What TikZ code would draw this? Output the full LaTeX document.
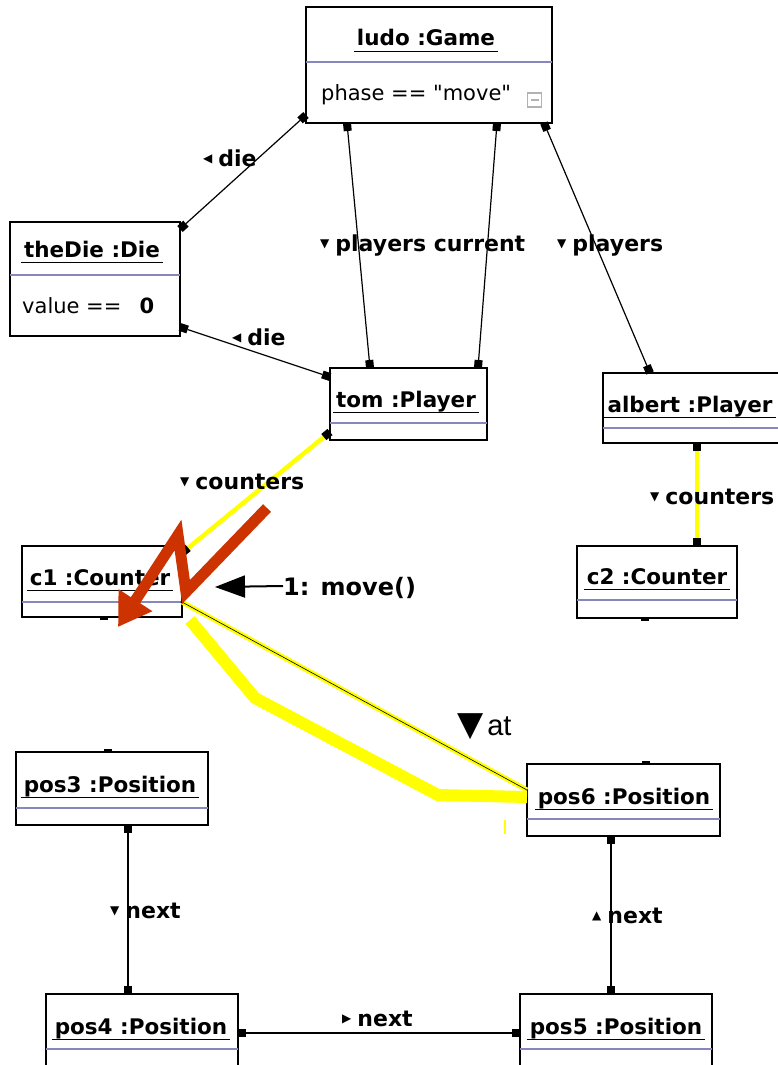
\documentclass[tikz,border=0pt]{standalone}
\usepackage{fontspec}
\setmainfont{DejaVu Sans}
\newfontfamily\symf{DejaVu Sans}
\newfontfamily\attrf{DejaVu Sans}[Ligatures=TeXOff]
\newfontfamily\arialf{Liberation Sans}
\usetikzlibrary{arrows.meta,calc}
\definecolor{divc}{RGB}{135,135,190}
\definecolor{yel}{RGB}{255,255,0}
\definecolor{redc}{RGB}{204,51,0}
\newcommand{\tD}{{\symf\fontsize{12}{12}\selectfont\raisebox{4pt}{▼}}\hspace{6pt}}
\newcommand{\tU}{{\symf\fontsize{12}{12}\selectfont\raisebox{4pt}{▲}}\hspace{6pt}}
\newcommand{\tL}{{\symf\fontsize{12}{12}\selectfont\raisebox{4pt}{◀}}\hspace{6pt}}
\newcommand{\tR}{{\symf\fontsize{12}{12}\selectfont\raisebox{4pt}{▶}}\hspace{6pt}}
\begin{document}
\begin{tikzpicture}[x=1pt,y=-1pt,
  obj/.style={draw=black, line width=1.6pt, fill=white, inner sep=0pt, outer sep=0pt},
  titlef/.style={font=\bfseries\fontsize{21.5}{21.5}\selectfont, inner sep=0pt, inner xsep=3pt, anchor=base},
  attr/.style={font=\attrf\fontsize{21}{21}\selectfont, inner sep=0pt, anchor=base west},
  lbl/.style={font=\bfseries\fontsize{22}{22}\selectfont, inner sep=0pt, anchor=base west},
  ul/.style={line width=1.7pt},
  divl/.style={draw=divc, line width=1.6pt},
  assoc/.style={line width=1.2pt, {Square[length=8pt,width=8pt,line width=0pt,black]}-{Square[length=8pt,width=8pt,line width=0pt,black]}},
  yassoc/.style={draw=yel, line width=4.5pt, {Square[length=8pt,width=8pt,line width=0pt,black]}-{Square[length=8pt,width=8pt,line width=0pt,black]}},
  stub/.style={line width=3pt}
]
\fill[white] (0,0) rectangle (778,1065);
\useasboundingbox (0,0) rectangle (778,1065);

% ---------- boxes ----------
\node[obj, minimum width=246pt, minimum height=116pt] (ludo) at (429,65) {};
\node[obj, minimum width=170pt, minimum height=114pt] (theDie) at (95,279) {};
\node[obj, minimum width=157pt, minimum height=72pt] (tom) at (408.5,404) {};
\node[obj, minimum width=179pt, minimum height=70pt] (albert) at (692.5,408) {};
\node[obj, minimum width=160pt, minimum height=71pt] (c1) at (102,581.5) {};
\node[obj, minimum width=160pt, minimum height=72pt] (c2) at (657,582) {};
\node[obj, minimum width=192pt, minimum height=73pt] (pos3) at (112,788.5) {};
\node[obj, minimum width=193pt, minimum height=72pt] (pos6) at (623.5,800) {};
\node[obj, minimum width=192pt, minimum height=81pt] (pos4) at (142,1034.5) {};
\node[obj, minimum width=192pt, minimum height=81pt] (pos5) at (616,1034.5) {};

% dividers
\draw[divl] (ludo.west |- 0,62) -- (ludo.east |- 0,62);
\draw[divl] (theDie.west |- 0,275) -- (theDie.east |- 0,275);
\draw[divl] (tom.west |- 0,423) -- (tom.east |- 0,423);
\draw[divl] (albert.west |- 0,428) -- (albert.east |- 0,428);
\draw[divl] (c1.west |- 0,602) -- (c1.east |- 0,602);
\draw[divl] (c2.west |- 0,600) -- (c2.east |- 0,600);
\draw[divl] (pos3.west |- 0,808) -- (pos3.east |- 0,808);
\draw[divl] (pos6.west |- 0,819) -- (pos6.east |- 0,819);
\draw[divl] (pos4.west |- 0,1049) -- (pos4.east |- 0,1049);
\draw[divl] (pos5.west |- 0,1049) -- (pos5.east |- 0,1049);

% titles
\node[titlef] (ludoT) at (426,46) {ludo :Game};
\node[titlef] (theDieT) at (92,257) {theDie :Die};
\node[titlef] (tomT) at (406,407) {tom :Player};
\node[titlef] (albertT) at (690,412) {albert :Player};
\node[titlef] (c1T) at (100,585) {c1 :Counter};
\node[titlef] (c2T) at (657,584) {c2 :Counter};
\node[titlef] (pos3T) at (110,792) {pos3 :Position};
\node[titlef] (pos6T) at (624,804) {pos6 :Position};
\node[titlef] (pos4T) at (141,1034) {pos4 :Position};
\node[titlef] (pos5T) at (616,1034) {pos5 :Position};
\foreach \t in {ludoT,theDieT,tomT,albertT,c1T,c2T,pos3T,pos6T,pos4T,pos5T}
  \draw[ul] ([yshift=-5.5pt]\t.base west) -- ([yshift=-5.5pt]\t.base east);

% attributes
\node[attr] (ludoA) at (321,100) {phase == "move"};
\node[draw=black!30, line width=1.2pt, minimum size=14pt, inner sep=0pt] (ludoMin) at (534.5,100) {};
\draw[black!30, line width=1.2pt] ([xshift=-4pt]ludoMin.center) -- ([xshift=4pt]ludoMin.center);
\node[attr] (dieA) at (22,313) {value ==};
\node[attr, font=\bfseries\fontsize{21}{21}\selectfont, anchor=base] (dieV) at (147,313) {0};

% ---------- associations ----------
\draw[assoc] ([yshift=8pt]ludo.south west) -- ([yshift=-7pt]theDie.north east);
\draw[assoc] ([xshift=41pt]ludo.south west) -- ([xshift=40pt]tom.north west);
\draw[assoc] ([xshift=191pt]ludo.south west) -- ([xshift=148pt]tom.north west);
\draw[assoc] ([xshift=238pt]ludo.south west) -- ([xshift=47pt]albert.north west);
\draw[assoc] ([yshift=9pt]theDie.south east) -- ([yshift=-9pt]tom.north west);
\draw[yassoc] ([yshift=8pt]tom.south west) -- ([yshift=-7pt]c1.north east);
\draw[yassoc] ([xshift=94pt]albert.south west) -- ([xshift=120pt]c2.north west);
\draw[assoc] ([xshift=16pt]pos3.south) -- ([xshift=-14pt]pos4.north);
\draw[assoc] ([xshift=-12.5pt]pos6.south) -- ([xshift=-5pt]pos5.north);
\draw[assoc] ([yshift=1.5pt]pos4.east) -- ([yshift=1.5pt]pos5.west);

% at association (highlighted)
\draw[yel, line width=12pt, line join=miter] ([xshift=8pt,yshift=-3pt]c1.south east) -- (255,698) -- (438,795) -- ([yshift=-33pt]pos6.north west);
\draw[yel, line width=5pt] ([yshift=15pt]c1.south east) -- ([yshift=-26pt]pos6.north west);
\draw[line width=0.6pt] ([yshift=15pt]c1.south east) -- ([yshift=-26pt]pos6.north west);
\fill ([yshift=15pt]c1.south east) circle (1.6pt);
\draw[yel, line width=1.5pt] (505,820) -- (505,834);

% stubs
\draw[stub] ([xshift=-8pt,yshift=1.5pt]pos3.north) -- ([xshift=0pt,yshift=1.5pt]pos3.north);
\draw[stub] ([xshift=18pt,yshift=1.5pt]pos6.north) -- ([xshift=26pt,yshift=1.5pt]pos6.north);
\draw[stub] ([xshift=-2pt,yshift=-1.5pt]c1.south) -- ([xshift=6pt,yshift=-1.5pt]c1.south);
\draw[stub] ([xshift=-16pt,yshift=-1.5pt]c2.south) -- ([xshift=-8pt,yshift=-1.5pt]c2.south);

% ---------- labels ----------
\node[lbl] (l1) at (203,166) {\tL die};
\node[lbl] (l2) at (320,251) {\tD players current};
\node[lbl] (l3) at (557,251) {\tD players};
\node[lbl] (l4) at (232,345) {\tL die};
\node[lbl] (l5) at (180,489) {\tD counters};
\node[lbl] (l6) at (650,504) {\tD counters};
\node[lbl] (l7) at (110,918) {\tD next};
\node[lbl] (l8) at (592,923) {\tU next};
\node[lbl] (l9) at (342,1026) {\tR next};
\node[inner sep=0pt, anchor=base west] (lat) at (457,735) {{\symf\fontsize{34}{34}\selectfont ▼}\hspace{4pt}{\arialf\fontsize{29}{29}\selectfont at}};

% message
\node[lbl, font=\bfseries\fontsize{24}{24}\selectfont] (move) at (283,595) {1: move()};
\coordinate (moveTip) at (215,587);
\draw[line width=2pt, -{Triangle[length=30pt,width=22pt]}] (move.west |- 0,586) -- (moveTip);

% red arrow
\coordinate (rA) at (267,508);
\coordinate (rB) at (186,592);
\coordinate (rC) at (178,535);
\coordinate (rD) at (118,627);
\draw[redc, line width=11pt, line join=miter, miter limit=20, -{Triangle[length=32pt,width=38pt]}] (rA) -- (rB) -- (rC) -- (rD);
\end{tikzpicture}
\end{document}
